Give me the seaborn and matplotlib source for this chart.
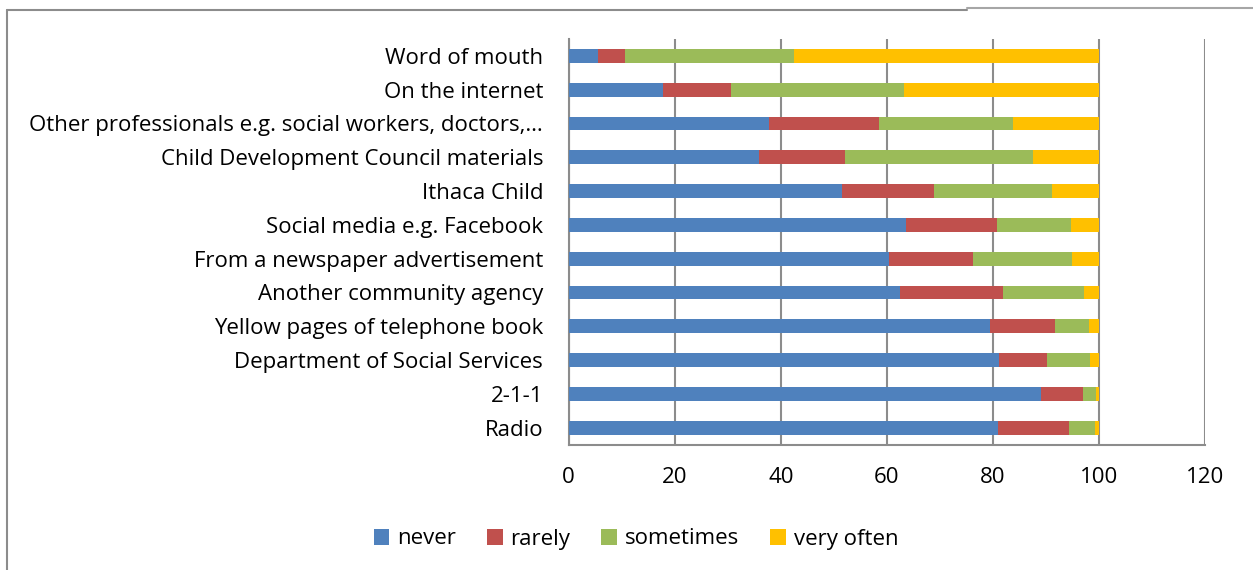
import matplotlib
matplotlib.use("Agg")
import matplotlib.pyplot as plt
from matplotlib.lines import Line2D
from matplotlib.patches import Patch
import seaborn as sns
import numpy as np
import pandas as pd

categories = [
    "Word of mouth",
    "On the internet",
    "Other professionals e.g. social workers, doctors,…",
    "Child Development Council materials",
    "Ithaca Child",
    "Social media e.g. Facebook",
    "From a newspaper advertisement",
    "Another community agency",
    "Yellow pages of telephone book",
    "Department of Social Services",
    "2-1-1",
    "Radio",
]
never = [5.5, 17.7, 37.7, 35.9, 51.5, 63.7, 60.4, 62.4, 79.5, 81.2, 89.0, 80.9]
rarely = [5.2, 12.9, 20.9, 16.3, 17.4, 17.0, 15.9, 19.5, 12.3, 9.0, 7.9, 13.5]
sometimes = [31.8, 32.6, 25.1, 35.3, 22.3, 14.0, 18.7, 15.3, 6.4, 8.2, 2.5, 4.9]
very_often = [57.5, 36.8, 16.3, 12.5, 8.8, 5.3, 5.0, 2.8, 1.8, 1.6, 0.6, 0.7]
series_names = ["never", "rarely", "sometimes", "very often"]
colors = ["#4F81BD", "#C0504D", "#9BBB59", "#FFC000"]
x_ticks = [0, 20, 40, 60, 80, 100, 120]

sns.set_style("white")
plt.rcParams["font.family"] = ["Open Sans", "DejaVu Sans"]
plt.rcParams["text.color"] = "black"
FS = 16

W, H = 1253, 570
fig = plt.figure(figsize=(W / 100, H / 100), dpi=100)
ax = fig.add_axes([568.7 / W, (H - 444.5) / H, (1205 - 568.7) / W, (444.5 - 39) / H])

df = pd.DataFrame({"category": categories, "never": never, "rarely": rarely,
                   "sometimes": sometimes, "very often": very_often})
cum = df[series_names].cumsum(axis=1)

# draw from the largest cumulative to the smallest so that each layer shows
for name, col in reversed(list(zip(series_names, colors))):
    sns.barplot(x=cum[name], y=df["category"], order=categories, color=col,
                width=0.41, linewidth=0, saturation=1, orient="h", ax=ax,
                zorder=3)

ax.set_xlim(0, 120)
ax.set_ylim(len(categories) - 0.5, -0.5)
ax.set_xticks(x_ticks)
ax.set_xticklabels([str(t) for t in x_ticks], fontsize=FS)
ax.set_xlabel("")
ax.set_ylabel("")
ax.set_yticks(range(len(categories)))
ax.set_yticklabels(categories, fontsize=FS)
ax.set_yticks(np.arange(-0.5, len(categories), 1.0), minor=True)
ax.tick_params(axis="y", which="major", length=0, pad=18.5, labelcolor="black")
ax.tick_params(axis="y", which="minor", length=6, width=1.5, color="#8c8c8c",
               direction="out")
ax.tick_params(axis="x", which="major", length=6, width=1.5, color="#8c8c8c",
               direction="out", pad=10.5, labelcolor="black")

ax.grid(axis="x", color="#8c8c8c", linewidth=1.5, zorder=0)
ax.set_axisbelow(True)
for s in ["top", "right"]:
    ax.spines[s].set_visible(False)
for s in ["left", "bottom"]:
    ax.spines[s].set_color("#8c8c8c")
    ax.spines[s].set_linewidth(1.5)

handles = [Patch(facecolor=c, edgecolor="none", label=n) for n, c in zip(series_names, colors)]
fig.legend(handles=handles, loc="center", bbox_to_anchor=(636 / W, (H - 539) / H),
           ncol=4, frameon=False, fontsize=FS, handlelength=0.7,
           handleheight=0.7, handletextpad=0.35, columnspacing=1.4,
           labelcolor="black")

# outer chart frame
fig.add_artist(Line2D([7 / W, 967 / W], [1 - 9.5 / H, 1 - 9.5 / H],
                      transform=fig.transFigure, color="#8c8c8c", lw=1.5))
fig.add_artist(Line2D([967 / W, 1.0], [1 - 8 / H, 1 - 8 / H],
                      transform=fig.transFigure, color="#a6a6a6", lw=1.5))
fig.add_artist(Line2D([7 / W, 7 / W], [0, 1 - 9.5 / H],
                      transform=fig.transFigure, color="#8c8c8c", lw=1.5))

fig.savefig("out.png", dpi=100)
